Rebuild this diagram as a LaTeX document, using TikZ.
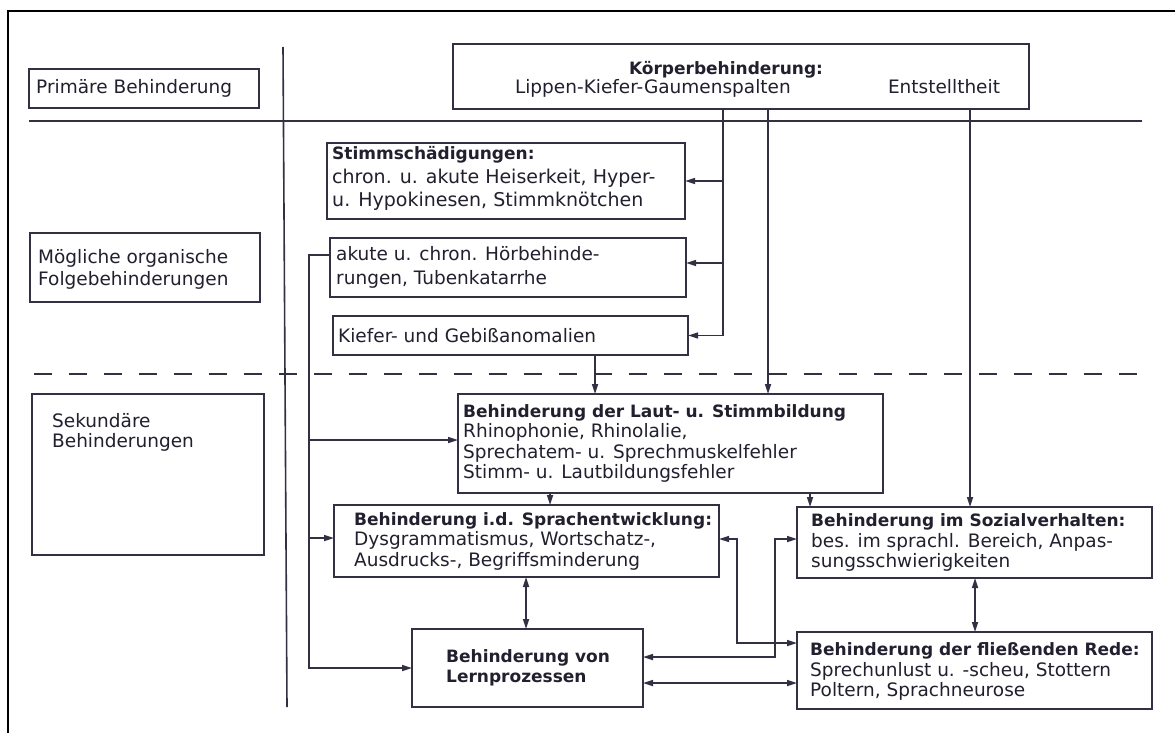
\documentclass[tikz,border=0pt]{standalone}
\usepackage{fontspec}
\setmainfont{DejaVu Sans}
\usetikzlibrary{arrows.meta}
\definecolor{ink}{RGB}{34,31,46}
\definecolor{rule}{RGB}{52,48,68}
\newcommand\rmtxt{\fontsize{18.5}{20.5}\selectfont}
\newcommand\bftxt{\fontsize{17}{20.5}\selectfont\bfseries}
\begin{document}
\begin{tikzpicture}[x=1pt,y=-1pt,
  outline/.style={draw=black,line width=2.4pt},
  divider/.style={draw=rule,line width=1.6pt},
  box/.style={draw=rule,line width=1.8pt,rectangle,anchor=north west,inner sep=0pt,outer sep=0pt},
  lbl/.style={anchor=west,align=left,inner sep=0pt,text=ink,font=\rmtxt},
  ln/.style={draw=rule,line width=1.6pt},
  arr/.style={ln,-{Triangle[length=10pt,width=6pt]}},
  darr/.style={ln,{Triangle[length=10pt,width=6pt]}-{Triangle[length=10pt,width=6pt]}},
]
\path[fill=white,use as bounding box] (0,0) rectangle (1175,733);

% page frame (top and left edge)
\draw[outline] (8,733) -- (8,11) -- (1175,11);

% separators of the three levels
\draw[divider] (283,47) -- (287,707);
\draw[divider] (29,121) -- (1142,121);
\draw[divider,dash pattern=on 18pt off 17pt] (34,374) -- (1145,374);

% level labels
\node[box,minimum width=230pt,minimum height=39pt] (prim) at (29,69) {};
\node[lbl] (primT) at ([xshift=7pt]prim.west) {Primäre Behinderung};

\node[box,minimum width=230pt,minimum height=69pt] (moeg) at (30,233) {};
\node[lbl,font=\fontsize{18.5}{22}\selectfont] (moegT) at ([xshift=8pt,yshift=-1.5pt]moeg.west) {Mögliche organische\\Folgebehinderungen};

\node[box,minimum width=232pt,minimum height=161pt] (seku) at (32,394) {};
\node[lbl,font=\fontsize{18.5}{20}\selectfont] (sekuT) at ([xshift=20pt,yshift=42.5pt]seku.west) {Sekundäre\\Behinderungen};

% primary handicap
\node[box,minimum width=576pt,minimum height=65pt] (koerper) at (453,44) {};
\node[anchor=base,inner sep=0pt,text=ink,font=\bftxt] (koerperT) at (726,75) {Körperbehinderung:};
\node[anchor=base east,inner sep=0pt,text=ink,font=\rmtxt] (lkg) at (791,94) {Lippen-Kiefer-Gaumenspalten};
\node[anchor=base,inner sep=0pt,text=ink,font=\rmtxt] (entst) at (944,94) {Entstelltheit};

% organic consequences
\node[box,minimum width=358pt,minimum height=76pt] (stimm) at (327,143) {};
\node[lbl,font=\fontsize{19}{23.5}\selectfont] (stimmT) at ([xshift=5pt,yshift=2.5pt]stimm.west) {{\bftxt Stimmschädigungen:}\\chron. u. akute Heiserkeit, Hyper-\\u. Hypokinesen, Stimmknötchen};

\node[box,minimum width=356pt,minimum height=59pt] (hoer) at (330,238) {};
\node[lbl,font=\fontsize{18.5}{24}\selectfont] (hoerT) at ([xshift=6pt]hoer.west) {akute u. chron. Hörbehinde-\\rungen, Tubenkatarrhe};

\node[box,minimum width=355pt,minimum height=39pt] (kiefer) at (333,316) {};
\node[lbl] (kieferT) at ([xshift=5pt]kiefer.west) {Kiefer- und Gebißanomalien};

% secondary handicaps
\node[box,minimum width=425pt,minimum height=99pt] (laut) at (458,394) {};
\node[lbl] (lautT) at ([xshift=5pt]laut.west) {{\bftxt Behinderung der Laut- u. Stimmbildung}\\Rhinophonie, Rhinolalie,\\Sprechatem- u. Sprechmuskelfehler\\Stimm- u. Lautbildungsfehler};

\node[box,minimum width=385pt,minimum height=72pt] (sprach) at (334,505) {};
\node[lbl] (sprachT) at ([xshift=20pt]sprach.west) {{\bftxt Behinderung i.d. Sprachentwicklung:}\\Dysgrammatismus, Wortschatz-,\\Ausdrucks-, Begriffsminderung};

\node[box,minimum width=231pt,minimum height=78pt] (lern) at (412,629) {};
\node[lbl,font=\bftxt] (lernT) at ([xshift=34pt]lern.west) {Behinderung von\\Lernprozessen};

\node[box,minimum width=355pt,minimum height=71pt] (sozial) at (797,507) {};
\node[lbl] (sozialT) at ([xshift=14pt]sozial.west) {{\bftxt Behinderung im Sozialverhalten:}\\bes. im sprachl. Bereich, Anpas-\\sungsschwierigkeiten};

\node[box,minimum width=355pt,minimum height=77pt] (rede) at (797,632) {};
\node[lbl] (redeT) at ([xshift=13pt,yshift=-1pt]rede.west) {{\bftxt Behinderung der fließenden Rede:}\\Sprechunlust u. -scheu, Stottern\\Poltern, Sprachneurose};

% bus lines
\coordinate (busK) at (723,0);
\coordinate (busL) at (768,0);
\coordinate (busE) at (970,0);
\coordinate (busH) at (309,0);
\coordinate (kx) at (595,0);
\coordinate (lx) at (550,0);
\coordinate (sx) at (810,0);
\coordinate (dx) at (526,0);
\coordinate (rx) at (975,0);
\coordinate (jA) at (737,643);
\coordinate (jB) at (775,539);

% from the cleft to the organic consequences
\draw[arr] (koerper.south -| busK) |- (kiefer.east);
\draw[arr] (busK |- stimm.east) -- (stimm.east);
\draw[arr] (busK |- 0,263) -- (hoer.east |- 0,263);

% into the secondary level
\draw[arr] (koerper.south -| busL) -- (laut.north -| busL);
\draw[arr] (koerper.south -| busE) -- (sozial.north -| busE);
\draw[arr] (kiefer.south -| kx) -- (laut.north -| kx);
\draw[arr] (laut.south -| lx) -- (sprach.north -| lx);
\draw[arr] (laut.south -| sx) -- (sozial.north -| sx);

% from the hearing impairments
\draw[arr] (hoer.west |- 0,255) -| (busH |- lern.west) -- (lern.west);
\draw[arr] (busH |- 0,440) -- (laut.west |- 0,440);
\draw[arr] (busH |- 0,538) -- (sprach.west |- 0,538);

% mutual influences
\draw[darr] (sprach.south -| dx) -- (lern.north -| dx);
\draw[darr] (sozial.south -| rx) -- (rede.north -| rx);
\draw[darr] (sprach.east |- 0,539) -| (jA) -- (rede.west |- jA);
\draw[darr] (lern.east |- 0,657) -| (jB) -- (sozial.west |- jB);
\draw[darr] (lern.east |- 0,683) -- (rede.west |- 0,683);
\end{tikzpicture}
\end{document}
